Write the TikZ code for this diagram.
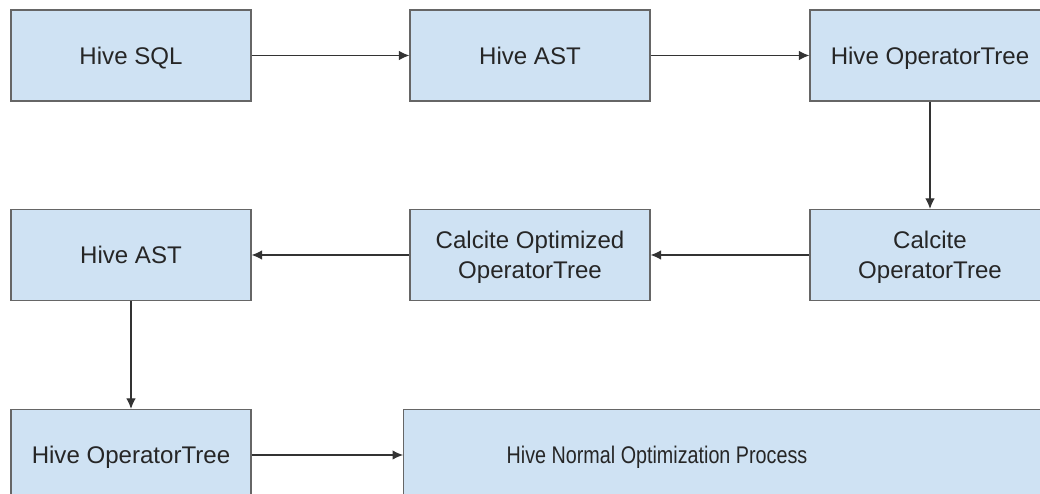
\documentclass[tikz,border=0pt]{standalone}
\usepackage{fontspec}
\setmainfont{Liberation Sans}
\newfontfamily\narrowfont[FakeStretch=0.82]{Liberation Sans}
\usepackage{xcolor}
\usepackage{tikz}
\usetikzlibrary{arrows.meta}

\definecolor{boxfill}{HTML}{CFE2F3}
\definecolor{boxline}{HTML}{666666}
\definecolor{arrline}{HTML}{333333}

\tikzset{
  stage/.style={draw=boxline,fill=boxfill,line width=0.7pt,minimum width=4.8cm,
    minimum height=1.82cm,inner sep=0pt,align=center,text=black!85,
    font=\fontsize{13.7}{17}\selectfont,text height=9.8pt,text depth=0pt},
  twoline/.style={text height=26.8pt},
  flow/.style={->,draw=arrline,line width=0.6pt}
}

\begin{document}
\begin{tikzpicture}[>={Latex[length=2.1mm,width=1.9mm]}]
\useasboundingbox (0,0) rectangle (20.8,-9.88);
\clip (0,0) rectangle (20.8,-9.88);

\node[stage] (sql) at (2.62,-1.11) {Hive SQL};
\node[stage] (astA) at (10.6,-1.11) {Hive AST};
\node[stage] (treeA) at (18.6,-1.11) {Hive OperatorTree};
\node[stage,twoline] (calcite) at (18.6,-5.1) {Calcite\\OperatorTree};
\node[stage,twoline] (calopt) at (10.6,-5.1) {Calcite Optimized\\OperatorTree};
\node[stage] (astB) at (2.62,-5.1) {Hive AST};
\node[stage] (treeB) at (2.62,-9.1) {Hive OperatorTree};
\node[stage,anchor=west,minimum width=12.94cm] (normal) at (8.06,-9.1) {};
\node[text=black!85,font=\fontsize{13.7}{17}\narrowfont,text height=9.8pt,text depth=0pt] (normaltext) at (13.14,-9.1) {Hive Normal Optimization Process};

\draw[flow] (sql) -- (astA);
\draw[flow] (astA) -- (treeA);
\draw[flow] (treeA) -- (calcite);
\draw[flow] (calcite) -- (calopt);
\draw[flow] (calopt) -- (astB);
\draw[flow] (astB) -- (treeB);
\draw[flow] (treeB) -- (normal);
\end{tikzpicture}
\end{document}
